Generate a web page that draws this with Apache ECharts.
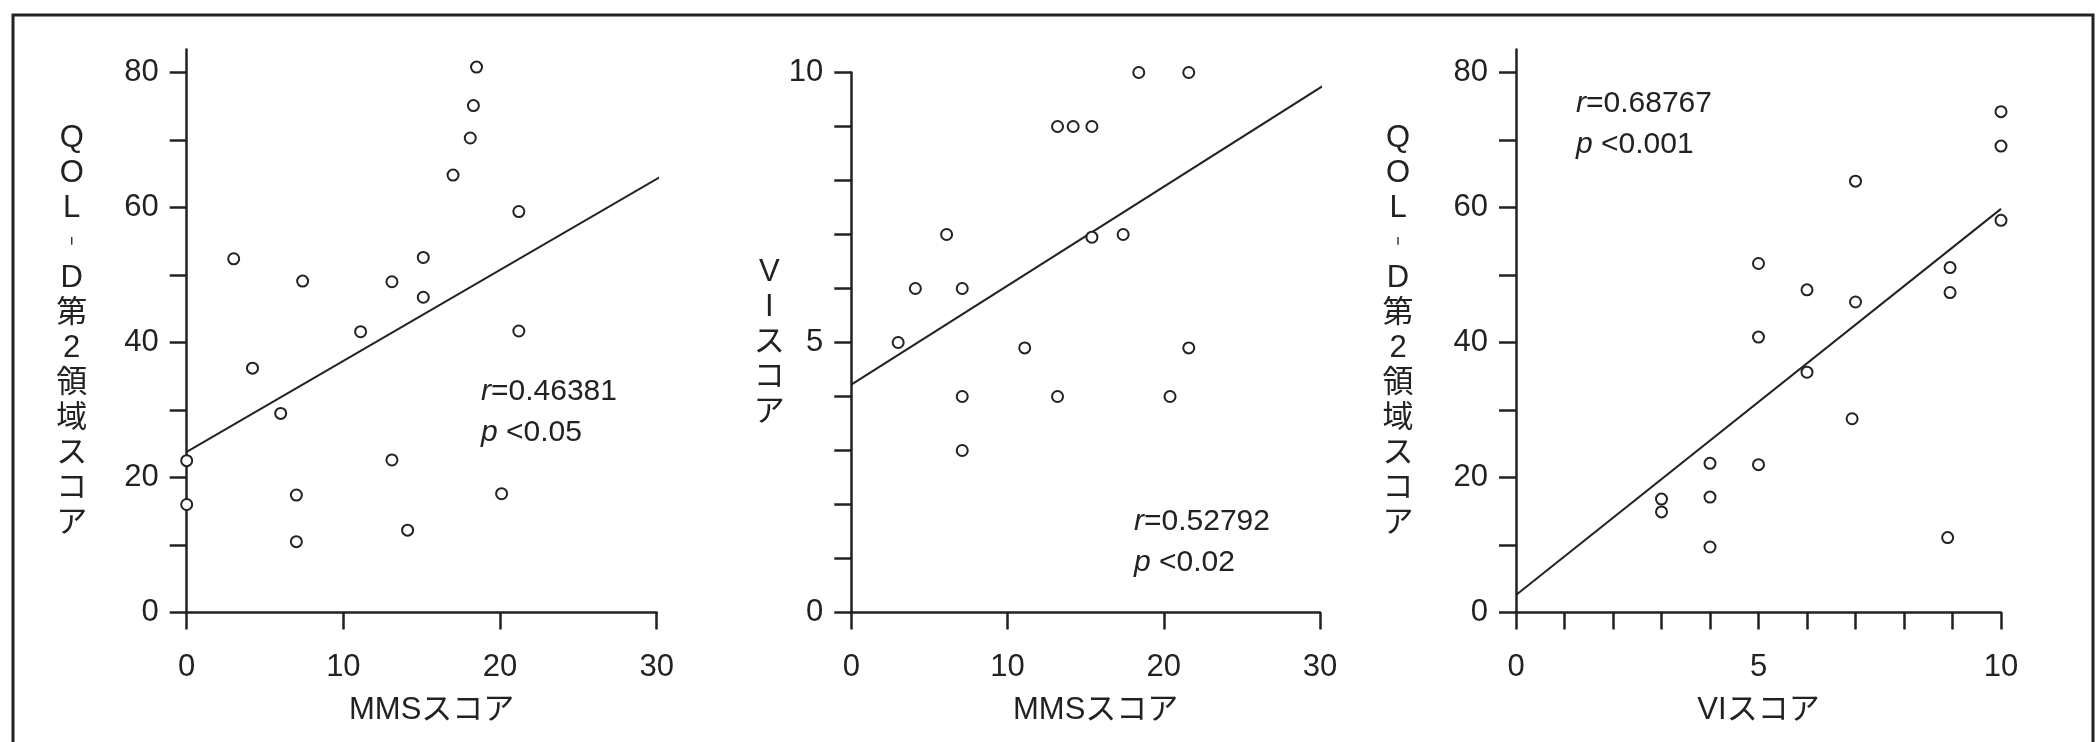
<!DOCTYPE html>
<html>
<head>
<meta charset="utf-8">
<script src="https://cdn.jsdelivr.net/npm/echarts@6/dist/echarts.min.js"></script>
<style>html,body{margin:0;padding:0;background:#fff}#c{width:2096px;height:742px}</style>
</head>
<body>
<div id="c"></div>
<script>
// ---- Panel 1: MMS score vs QOL-D domain 2 score ----
const p1X = [18.5, 18.3, 18.1, 17.0, 21.2, 3.0, 15.1, 7.4, 13.1, 15.1, 11.1, 21.2, 4.2, 6.0, 0, 13.1, 0, 7.0, 20.1, 7.0, 14.1];
const p1Y = [80.8, 75.1, 70.3, 64.8, 59.4, 52.4, 52.6, 49.1, 49.0, 46.7, 41.6, 41.7, 36.2, 29.5, 22.5, 22.6, 16.0, 17.4, 17.6, 10.5, 12.2];
const fit1X = [0, 30.8];
const fit1Y = [23.8, 65.3];
// ---- Panel 2: MMS score vs VI score ----
const p2X = [18.4, 21.6, 13.2, 14.2, 15.4, 6.1, 15.4, 17.4, 4.1, 7.1, 3.0, 11.1, 21.6, 7.1, 13.2, 20.4, 7.1];
const p2Y = [10, 10, 9, 9, 9, 7, 6.95, 7, 6, 6, 5, 4.9, 4.9, 4, 4, 4, 3];
const fit2X = [0, 31.0];
const fit2Y = [4.22, 9.9];
// ---- Panel 3: VI score vs QOL-D domain 2 score ----
const p3X = [10, 10, 10, 7, 5, 8.95, 6, 8.95, 7, 5, 6, 6.93, 4, 5, 4, 3, 3, 4, 8.9];
const p3Y = [74.2, 69.1, 58.1, 63.9, 51.7, 51.1, 47.8, 47.4, 46.0, 40.8, 35.6, 28.7, 22.1, 21.9, 17.1, 16.8, 14.9, 9.7, 11.1];
const fit3X = [0, 10.0];
const fit3Y = [2.6, 59.8];

// ---- Tick values / labels ----
const qolTicks = [0, 10, 20, 30, 40, 50, 60, 70, 80];
const qolLabels = [0, 20, 40, 60, 80];
const mmsTicks = [0, 10, 20, 30];
const viTicks = [0, 1, 2, 3, 4, 5, 6, 7, 8, 9, 10];
const viLabels = [0, 5, 10];

// ---- Texts ----
const nameQOL = 'QOL-D第2領域スコア';
const nameVI = 'VIスコア';
const nameMMS = 'MMSスコア';
const stats = [
  { r: '0.46381', p: '<0.05' },
  { r: '0.52792', p: '<0.02' },
  { r: '0.68767', p: '<0.001' }
];

const INK = '#222';
const FONT = "'Liberation Sans', 'Noto Sans CJK JP', sans-serif";
const FS = 31;

function vertical(s) {
  return Array.from(s).map(ch => ch === '-' ? '︲' : ch).join('\n');
}
function pairs(xs, ys) { return xs.map((x, i) => [x, ys[i]]); }

function xAxis(gi, max, interval, ticks, labels, name, shift) {
  return {
    type: 'value', gridIndex: gi, min: 0, max: max, interval: interval,
    splitLine: { show: false },
    axisLine: { show: true, onZero: false, lineStyle: { color: INK, width: 2.5 } },
    axisTick: { show: true, inside: false, length: 17, customValues: ticks, lineStyle: { color: INK, width: 2.5 } },
    axisLabel: { customValues: labels, margin: 39, color: INK, fontFamily: FONT, fontSize: FS },
    name: name, nameLocation: 'middle', nameGap: 98, nameMoveOverlap: false,
    nameTextStyle: { color: INK, fontFamily: FONT, fontSize: FS, verticalAlign: 'middle', align: 'center', padding: [0, 0, 0, shift] }
  };
}
function yAxis(gi, max, interval, ticks, labels, name, gap, up) {
  return {
    type: 'value', gridIndex: gi, min: 0, max: max, interval: interval,
    splitLine: { show: false },
    axisLine: { show: true, onZero: false, lineStyle: { color: INK, width: 2.5 } },
    axisTick: { show: true, inside: false, length: 17, customValues: ticks, lineStyle: { color: INK, width: 2.5 } },
    axisLabel: { customValues: labels, margin: 28, color: INK, fontFamily: FONT, fontSize: FS },
    name: vertical(name), nameLocation: 'middle', nameRotate: 0, nameGap: gap, nameMoveOverlap: false,
    nameTextStyle: { color: INK, fontFamily: FONT, fontSize: FS, lineHeight: 35, align: 'center', verticalAlign: 'middle', padding: [0, 0, up, 0] }
  };
}
function scatter(gi, xs, ys) {
  return {
    type: 'scatter', xAxisIndex: gi, yAxisIndex: gi, data: pairs(xs, ys),
    symbol: 'circle', symbolSize: 11, clip: false, z: 3,
    itemStyle: { color: '#fff', borderColor: INK, borderWidth: 2, opacity: 1 }
  };
}
function fit(gi, xs, ys) {
  return {
    type: 'line', xAxisIndex: gi, yAxisIndex: gi, data: pairs(xs, ys),
    showSymbol: false, symbol: 'none', clip: false, z: 2,
    lineStyle: { color: INK, width: 2 }
  };
}
function statText(i, left, top) {
  return {
    type: 'text', left: left, top: top, z: 10,
    style: {
      text: '{i|r}=' + stats[i].r + '\n{i|p} ' + stats[i].p,
      fill: INK, font: FS - 1 + 'px ' + FONT, lineHeight: 41,
      rich: { i: { fontStyle: 'italic', fontFamily: FONT, fontSize: FS - 1, fill: INK, lineHeight: 41 } }
    }
  };
}

const yTopQ = 80 * 563 / 540;

const option = {
  animation: false,
  backgroundColor: '#fff',
  grid: [
    { left: 186.7, top: 49.5, width: 470, height: 563, containLabel: false, outerBoundsMode: 'none' },
    { left: 851.3, top: 72.5, width: 468.7, height: 540, containLabel: false, outerBoundsMode: 'none' },
    { left: 1516, top: 49.5, width: 485, height: 563, containLabel: false, outerBoundsMode: 'none' }
  ],
  xAxis: [
    xAxis(0, 30, 10, mmsTicks, mmsTicks, nameMMS, 20),
    xAxis(1, 30, 10, mmsTicks, mmsTicks, nameMMS, 20),
    xAxis(2, 10, 1, viTicks, viLabels, nameVI, 0)
  ],
  yAxis: [
    yAxis(0, yTopQ, 10, qolTicks, qolLabels, nameQOL, 115, 20),
    yAxis(1, 10, 1, viTicks, viLabels, nameVI, 82, 36),
    yAxis(2, yTopQ, 10, qolTicks, qolLabels, nameQOL, 118, 20)
  ],
  series: [
    fit(0, fit1X, fit1Y), scatter(0, p1X, p1Y),
    fit(1, fit2X, fit2Y), scatter(1, p2X, p2Y),
    fit(2, fit3X, fit3Y), scatter(2, p3X, p3Y)
  ],
  graphic: [
    { type: 'rect', shape: { x: 13, y: 15, width: 2080, height: 800 }, style: { fill: 'none', stroke: INK, lineWidth: 3 }, z: 0 },
    statText(0, 481, 371),
    statText(1, 1134, 501),
    statText(2, 1576, 83)
  ]
};

const chart = echarts.init(document.getElementById('c'), null, { renderer: 'canvas', width: 2096, height: 742 });
chart.setOption(option);
</script>
</body>
</html>
